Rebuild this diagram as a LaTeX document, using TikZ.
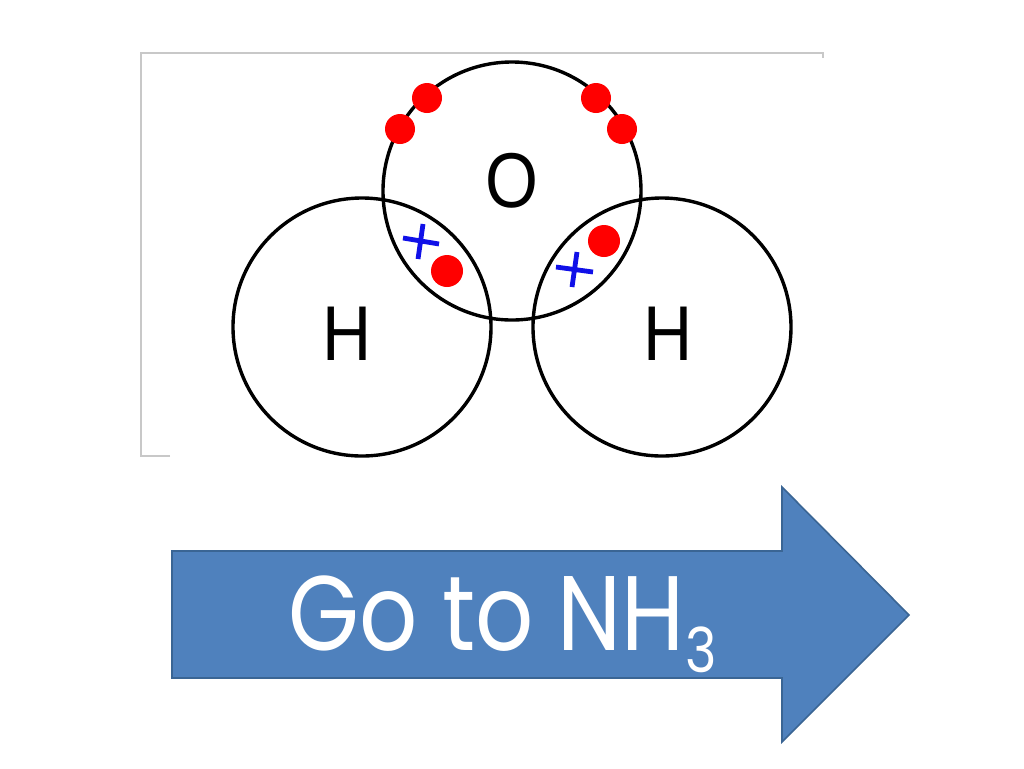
\documentclass[tikz,border=0pt]{standalone}
\usepackage{fontspec}
\setmainfont{Liberation Sans}
\newfontfamily\arrowfont{Poppins}
\usepackage{tikz}
\usepackage{xcolor}
\definecolor{arrowblue}{HTML}{4F81BD}
\definecolor{arrowedge}{HTML}{3A6594}
\definecolor{framegray}{HTML}{C8C8C8}
\definecolor{xblue}{HTML}{1010E8}

\begin{document}
\begin{tikzpicture}[x=0.5pt,y=-0.5pt,
 shell/.style={circle,draw,line width=1.7pt,minimum size=129pt,inner sep=0pt},
 symb/.style={font=\fontsize{37}{37}\selectfont,inner sep=0pt},
 xmark/.style={draw=xblue,line width=2.4pt}]
 \useasboundingbox (0,0) rectangle (1024,768);
 % picture frame
 \draw[framegray,line width=0.6pt] (170,456)--(141,456)--(141,53)--(823,53)--(823,58);
 % shells
 \node[shell] (O) at (512,191) {};
 \node[shell] (H1) at (362,327) {};
 \node[shell] (H2) at (662,327) {};
 \node[symb] (Olab) at (512,181) {\scalebox{0.92}[1.05]{O}};
 \node[symb] (H1lab) at (347,334) {\scalebox{0.92}[1.05]{H}};
 \node[symb] (H2lab) at (668,334) {\scalebox{0.92}[1.05]{H}};
 % lone pairs
 \path[fill=red] (427,98) circle (15);
 \path[fill=red] (400,129) circle (15);
 \path[fill=red] (596,98) circle (15);
 \path[fill=red] (622,129) circle (15);
 % shared pairs
 \path[fill=red] (447,271) circle (16);
 \path[fill=red] (604,241) circle (16);
 \draw[xmark] (403,238)--(439,244) (423,224)--(418,259);
 \draw[xmark] (556,267)--(593,272) (577,252)--(572,287);
 %%%%%%%%%%%%%%%%%%%%%%%%%%%%%%%%%%%
 \draw[fill=arrowblue,draw=arrowedge,line width=0.8pt]
  (172,551)--(782,551)--(782,487)--(909,615)--(782,742)--(782,678)--(172,678)--cycle;
 \node[anchor=base west,inner sep=0pt,text=white] (go) at (288,650)
  {\arrowfont\scalebox{0.86}[1]{\fontsize{53}{53}\selectfont Go to NH\raisebox{-11pt}{\fontsize{31}{31}\selectfont 3}}};
\end{tikzpicture}
\end{document}
